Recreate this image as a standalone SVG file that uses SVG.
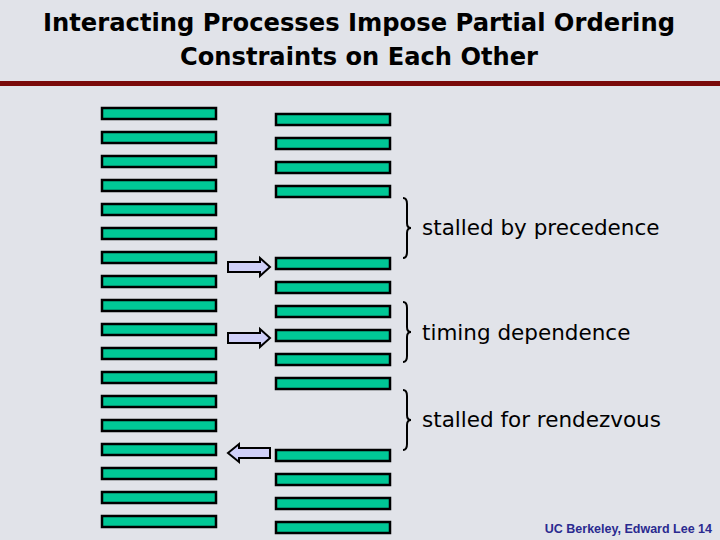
<svg xmlns="http://www.w3.org/2000/svg" width="720" height="540" viewBox="0 0 720 540">
<defs><style>
.b{fill:#00c896;stroke:#000;stroke-width:2.5}
.a{fill:#d0d0f8;stroke:#000;stroke-width:2}
.br{fill:none;stroke:#000;stroke-width:2}
.t{font-family:"DejaVu Sans",sans-serif;font-size:21.5px;fill:#000}
.h{font-family:"DejaVu Sans",sans-serif;font-size:25px;font-weight:bold;fill:#000;text-anchor:middle}
</style></defs>
<rect width="720" height="540" fill="#e1e3e9"/>
<text class="h" x="359" y="31" textLength="632" lengthAdjust="spacingAndGlyphs">Interacting Processes Impose Partial Ordering</text>
<text class="h" x="359" y="65" textLength="358" lengthAdjust="spacingAndGlyphs">Constraints on Each Other</text>
<rect x="0" y="81" width="720" height="5" fill="#7a0a0a"/>
<g id="left">
<rect class="b" x="102" y="108" width="114" height="11"/><rect class="b" x="102" y="132" width="114" height="11"/>
<rect class="b" x="102" y="156" width="114" height="11"/><rect class="b" x="102" y="180" width="114" height="11"/>
<rect class="b" x="102" y="204" width="114" height="11"/><rect class="b" x="102" y="228" width="114" height="11"/>
<rect class="b" x="102" y="252" width="114" height="11"/><rect class="b" x="102" y="276" width="114" height="11"/>
<rect class="b" x="102" y="300" width="114" height="11"/><rect class="b" x="102" y="324" width="114" height="11"/>
<rect class="b" x="102" y="348" width="114" height="11"/><rect class="b" x="102" y="372" width="114" height="11"/>
<rect class="b" x="102" y="396" width="114" height="11"/><rect class="b" x="102" y="420" width="114" height="11"/>
<rect class="b" x="102" y="444" width="114" height="11"/><rect class="b" x="102" y="468" width="114" height="11"/>
<rect class="b" x="102" y="492" width="114" height="11"/><rect class="b" x="102" y="516" width="114" height="11"/>
</g>
<g id="right">
<rect class="b" x="276" y="114" width="114" height="11"/><rect class="b" x="276" y="138" width="114" height="11"/>
<rect class="b" x="276" y="162" width="114" height="11"/><rect class="b" x="276" y="186" width="114" height="11"/>
<rect class="b" x="276" y="258" width="114" height="11"/><rect class="b" x="276" y="282" width="114" height="11"/>
<rect class="b" x="276" y="306" width="114" height="11"/><rect class="b" x="276" y="330" width="114" height="11"/>
<rect class="b" x="276" y="354" width="114" height="11"/><rect class="b" x="276" y="378" width="114" height="11"/>
<rect class="b" x="276" y="450" width="114" height="11"/><rect class="b" x="276" y="474" width="114" height="11"/>
<rect class="b" x="276" y="498" width="114" height="11"/><rect class="b" x="276" y="522" width="114" height="11"/>
</g>
<g id="connectors">
<path class="a" d="M228,262 H260 V258 L270,267 L260,276 V272 H228 Z"/>
<path class="a" d="M228,333 H260 V329 L270,338 L260,347 V343 H228 Z"/>
<path class="a" d="M270,448 H239 V444 L228,453 L239,462 V458 H270 Z"/>
</g>
<g id="braces">
<path class="br" d="M403,198 Q407,198 407,204 V223 Q407,228 411,228 Q407,228 407,233 V252 Q407,258 403,258"/>
<path class="br" d="M403,302 Q407,302 407,308 V327 Q407,332 411,332 Q407,332 407,337 V356 Q407,362 403,362"/>
<path class="br" d="M403,390 Q407,390 407,396 V415 Q407,420 411,420 Q407,420 407,425 V444 Q407,450 403,450"/>
</g>
<text class="t" x="422" y="235">stalled by precedence</text>
<text class="t" x="422" y="340">timing dependence</text>
<text class="t" x="422" y="427">stalled for rendezvous</text>
<text x="712" y="533" text-anchor="end" font-family="Liberation Sans,sans-serif" font-size="12.5" font-weight="bold" fill="#2a2a90">UC Berkeley, Edward Lee  14</text>
</svg>
